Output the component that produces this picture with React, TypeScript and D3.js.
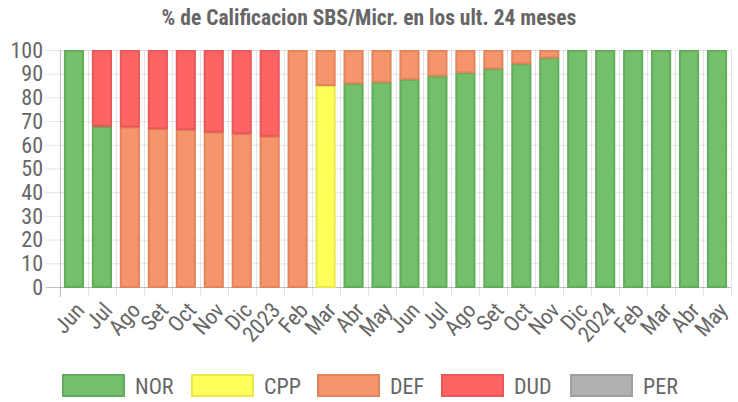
import { useEffect, useRef } from 'react'
import * as d3 from 'd3'

const labels = ['Jun', 'Jul', 'Ago', 'Set', 'Oct', 'Nov', 'Dic', '2023', 'Feb', 'Mar', 'Abr', 'May',
  'Jun', 'Jul', 'Ago', 'Set', 'Oct', 'Nov', 'Dic', '2024', 'Feb', 'Mar', 'Abr', 'May']

const nor = [100, 68, 0, 0, 0, 0, 0, 0, 0, 0, 86, 86.6, 87.8, 89.2, 90.6, 92.3, 94.4, 96.9, 100, 100, 100, 100, 100, 100]
const cpp = [0, 0, 0, 0, 0, 0, 0, 0, 0, 85.2, 0, 0, 0, 0, 0, 0, 0, 0, 0, 0, 0, 0, 0, 0]
const def = [0, 0, 67.7, 67, 66.6, 65.6, 64.9, 63.8, 100, 14.8, 14, 13.4, 12.2, 10.8, 9.4, 7.7, 5.6, 3.1, 0, 0, 0, 0, 0, 0]
const dud = [0, 32, 32.3, 33, 33.4, 34.4, 35.1, 36.2, 0, 0, 0, 0, 0, 0, 0, 0, 0, 0, 0, 0, 0, 0, 0, 0]
const per = [0, 0, 0, 0, 0, 0, 0, 0, 0, 0, 0, 0, 0, 0, 0, 0, 0, 0, 0, 0, 0, 0, 0, 0]

const yTicks = [0, 10, 20, 30, 40, 50, 60, 70, 80, 90, 100]

const series = [
  { key: 'NOR', values: nor, fill: '#73bf6a', stroke: '#62ad5b' },
  { key: 'CPP', values: cpp, fill: '#ffff5c', stroke: '#e9e94f' },
  { key: 'DEF', values: def, fill: '#f5956b', stroke: '#e2855d' },
  { key: 'DUD', values: dud, fill: '#ff6464', stroke: '#e85858' },
  { key: 'PER', values: per, fill: '#b0b0b0', stroke: '#a0a0a0' },
]

const FONT = '"Liberation Sans Narrow", "Roboto Condensed", "Liberation Sans", sans-serif'

export default function App() {
  const svgRef = useRef<SVGSVGElement>(null)

  useEffect(() => {
    if (!svgRef.current) return
    const svg = d3.select(svgRef.current)
    svg.selectAll('*').remove()

    const width = 738
    const margin = { top: 50, right: 7, bottom: 115, left: 60 }
    const innerWidth = width - margin.left - margin.right
    const innerHeight = 402 - margin.top - margin.bottom

    // title
    svg.append('text')
      .attr('x', width / 2)
      .attr('y', 25)
      .attr('text-anchor', 'middle')
      .attr('fill', '#666')
      .style('font-family', FONT)
      .style('font-size', '21.5px')
      .style('font-weight', 700)
      .text('% de Calificacion SBS/Micr. en los ult. 24 meses')

    const g = svg.append('g').attr('transform', `translate(${margin.left},${margin.top})`)

    const x = d3.scaleBand<string>().domain(labels.map((d, i) => d + i)).range([0, innerWidth])
    const y = d3.scaleLinear().domain([0, 100]).range([innerHeight, 0])

    // horizontal grid
    g.selectAll('line.hgrid')
      .data(yTicks)
      .enter()
      .append('line')
      .attr('x1', -14)
      .attr('x2', innerWidth)
      .attr('y1', (d) => y(d) + 0.5)
      .attr('y2', (d) => y(d) + 0.5)
      .attr('stroke', (d) => (d === 0 ? 'rgba(0,0,0,0.25)' : 'rgba(0,0,0,0.1)'))

    // vertical grid (category boundaries)
    const bounds = d3.range(labels.length + 1)
    g.selectAll('line.vgrid')
      .data(bounds)
      .enter()
      .append('line')
      .attr('x1', (i) => Math.round(i * x.step()) + 0.5)
      .attr('x2', (i) => Math.round(i * x.step()) + 0.5)
      .attr('y1', 0)
      .attr('y2', innerHeight + 10)
      .attr('stroke', (i) => (i === 0 ? 'rgba(0,0,0,0.25)' : 'rgba(0,0,0,0.1)'))

    // y labels
    g.selectAll('text.ylab')
      .data(yTicks)
      .enter()
      .append('text')
      .attr('x', -17)
      .attr('y', (d) => y(d))
      .attr('dy', '0.35em')
      .attr('text-anchor', 'end')
      .attr('fill', '#666')
      .style('font-family', FONT)
      .style('font-size', '22px')
      .text((d) => d)

    // x labels
    g.selectAll('text.xlab')
      .data(labels)
      .enter()
      .append('text')
      .attr('transform', (d, i) => `translate(${(x(d + i) ?? 0) + x.bandwidth() / 2 + 6},${innerHeight + 19}) rotate(-48)`)
      .attr('text-anchor', 'end')
      .attr('dy', '0.35em')
      .attr('fill', '#666')
      .style('font-family', FONT)
      .style('font-size', '22px')
      .text((d) => d)

    // stacked bars
    const rows = labels.map((_, i) => {
      const r: Record<string, number> = {}
      series.forEach((s) => { r[s.key] = s.values[i] })
      return r
    })
    const stack = d3.stack<Record<string, number>>().keys(series.map((s) => s.key))
    const layers = stack(rows)
    const barW = x.bandwidth() * 0.72

    layers.forEach((layer, li) => {
      const s = series[li]
      layer.forEach((seg, i) => {
        const h = y(seg[0]) - y(seg[1])
        if (h <= 0) return
        const bx = (x(labels[i] + i) ?? 0) + (x.bandwidth() - barW) / 2
        g.append('rect')
          .attr('x', bx + 1)
          .attr('y', y(seg[1]) + 1)
          .attr('width', barW - 2)
          .attr('height', Math.max(0, h - 1))
          .attr('fill', s.fill)
          .attr('stroke', s.stroke)
          .attr('stroke-width', 2)
      })
    })

    // legend
    const lx = [62, 191, 317, 441, 570]
    const leg = svg.append('g').attr('transform', 'translate(0,374)')
    series.forEach((s, i) => {
      leg.append('rect')
        .attr('x', lx[i] + 1)
        .attr('y', 1)
        .attr('width', 61)
        .attr('height', 21)
        .attr('fill', s.fill)
        .attr('stroke', s.stroke)
        .attr('stroke-width', 2)
      leg.append('text')
        .attr('x', lx[i] + 73)
        .attr('y', 12)
        .attr('dy', '0.35em')
        .attr('fill', '#666')
        .style('font-family', FONT)
        .style('font-size', '22px')
        .text(s.key)
    })
  }, [])

  return (
    <svg
      ref={svgRef}
      width={738}
      height={402}
      style={{ position: 'absolute', left: 0, top: 0, background: '#fff' }}
    />
  )
}
